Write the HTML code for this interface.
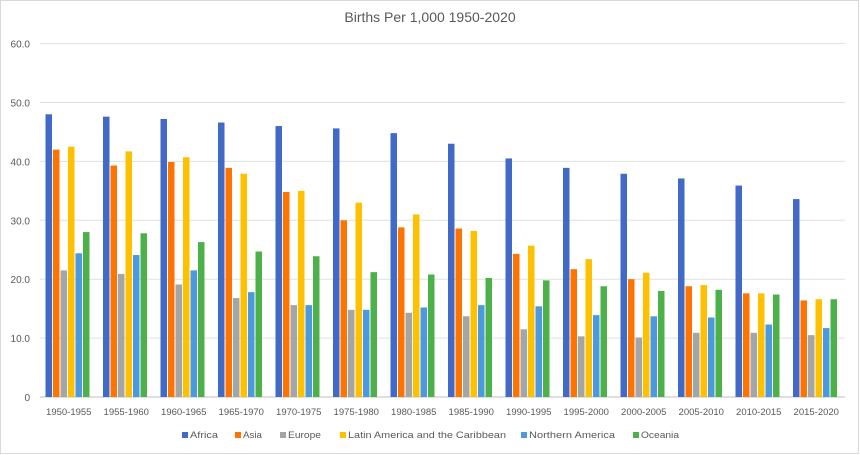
<!DOCTYPE html>
<html><head><meta charset="utf-8"><style>
body{margin:0;background:#fff;}
svg{display:block;font-family:"Liberation Sans",sans-serif;}
</style></head><body>
<svg id="c" width="860" height="455" xmlns="http://www.w3.org/2000/svg">
<rect x="0.5" y="0.5" width="858" height="453" fill="#fff" stroke="#d9d9d9"/>
<text x="430" y="22" font-size="14" fill="#595959" text-anchor="middle">Births Per 1,000 1950-2020</text>
<g id="g"></g>
</svg>
<script>
var d=[
[48,47.6,47.2,46.6,46,45.6,44.8,43,40.5,38.9,37.9,37.1,35.9,33.6],
[42,39.3,39.9,38.9,34.8,30,28.8,28.6,24.3,21.7,20,18.8,17.6,16.4],
[21.5,20.9,19.1,16.8,15.6,14.8,14.3,13.7,11.5,10.3,10.1,10.9,10.9,10.5],
[42.5,41.7,40.7,37.9,35,33,31,28.2,25.7,23.4,21.1,19,17.6,16.6],
[24.4,24.1,21.5,17.8,15.6,14.8,15.2,15.6,15.4,13.9,13.7,13.5,12.3,11.7],
[28,27.8,26.3,24.7,23.9,21.2,20.8,20.2,19.8,18.8,18,18.2,17.4,16.6]];
var col=["#4169c8","#ff7300","#a5a5a5","#ffc000","#4b9ade","#4cb148"];
var names=["Africa","Asia","Europe","Latin America and the Caribbean","Northern America","Oceania"];
var s="",y0=397,k=58.9/10;
for(var i=0;i<=6;i++){var y=y0-i*58.9;
 s+='<line x1="40" x2="845" y1="'+y+'" y2="'+y+'" stroke="'+(i==0?'#bfbfbf':'#e0e0e0')+'"/>';
 s+='<text x="30" y="'+(y+4)+'" font-size="10" fill="#595959" text-anchor="end">'+(i==0?'0':(i*10).toFixed(1))+'</text>';}
for(var c=0;c<14;c++){var x0=40+c*57.5;
 for(var j=0;j<6;j++){var h=d[j][c]*k;
  s+='<rect x="'+(x0+5.5+j*7.5)+'" y="'+(y0-h)+'" width="6.5" height="'+h+'" fill="'+col[j]+'"/>';}
 var a=1950+c*5;
 s+='<text x="'+(x0+28.75)+'" y="415" font-size="9.5" fill="#595959" text-anchor="middle">'+a+'-'+(a+5)+'</text>';}
var lx=[182,235,280,340,521,633],tw=[28,19,33,158,86,38];
for(var j=0;j<6;j++){s+='<rect x="'+lx[j]+'" y="432" width="6" height="6" fill="'+col[j]+'"/>';
 s+='<text x="'+(lx[j]+8)+'" y="438" font-size="9" fill="#595959" textLength="'+tw[j]+'" lengthAdjust="spacingAndGlyphs">'+names[j]+'</text>';}
document.getElementById("g").innerHTML=s;
</script>
</body></html>
